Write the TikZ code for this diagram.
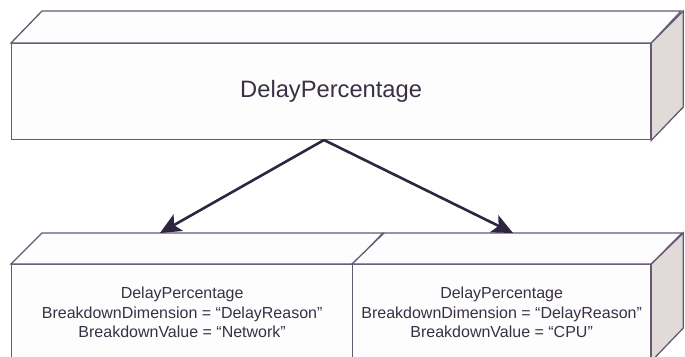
\documentclass[tikz,border=0pt]{standalone}
\usepackage{fontspec}
\setmainfont{Liberation Sans}
\usetikzlibrary{arrows.meta}
\definecolor{edge}{HTML}{625A72}
\definecolor{ink}{HTML}{3A3045}
\definecolor{arrowink}{HTML}{2E2640}
\definecolor{sidefill}{HTML}{E2DAD8}
\definecolor{facefill}{HTML}{FDFDFD}
\tikzset{
  face/.style={draw=edge, line width=1.3pt, fill=facefill, line join=miter},
  side/.style={draw=edge, line width=1.3pt, fill=sidefill, line join=miter},
  front/.style={face, rectangle, inner sep=0pt, anchor=north west, text=ink, align=center},
  link/.style={draw=arrowink, line width=2.6pt, -{Stealth[length=21pt,width=19pt,inset=5pt]}}
}
\begin{document}
\begin{tikzpicture}[x=1pt, y=-1pt]
\useasboundingbox (0,0) rectangle (685,356);
% ---- top block ----
\node[front, minimum width=639pt, minimum height=96pt,
      font=\fontsize{23.7}{28}\selectfont] (top) at (11,43) {\raisebox{-2pt}{DelayPercentage}};
\path[face] (top.north west) -- ++(31,-32) -- ++(639,0) -- (top.north east) -- cycle;
\path[side] (top.north east) -- ++(32,-32) -- ++(0,96) -- (top.south east) -- cycle;
% ---- lower left block ----
\node[front, minimum width=341pt, minimum height=96pt,
      font=\fontsize{16}{19.5}\selectfont] (left) at (11,264)
  {DelayPercentage\\BreakdownDimension = “DelayReason”\\BreakdownValue = “Network”};
\path[face] (left.north west) -- ++(31,-31) -- ++(341,0) -- (left.north east) -- cycle;
% ---- lower right block ----
\node[front, minimum width=298pt, minimum height=96pt,
      font=\fontsize{16}{19.5}\selectfont] (right) at (352,264)
  {DelayPercentage\\BreakdownDimension = “DelayReason”\\BreakdownValue = “CPU”};
\path[face] (right.north west) -- ++(32,-31) -- ++(298,0) -- (right.north east) -- cycle;
\path[side] (right.north east) -- ++(32,-31) -- ++(0,95) -- (right.south east) -- cycle;
% ---- connectors ----
\coordinate (src) at (324,140);
\coordinate (dl) at (160,233);
\coordinate (dr) at (513,233);
\draw[link] (src) -- (dl);
\draw[link] (src) -- (dr);
\end{tikzpicture}
\end{document}
